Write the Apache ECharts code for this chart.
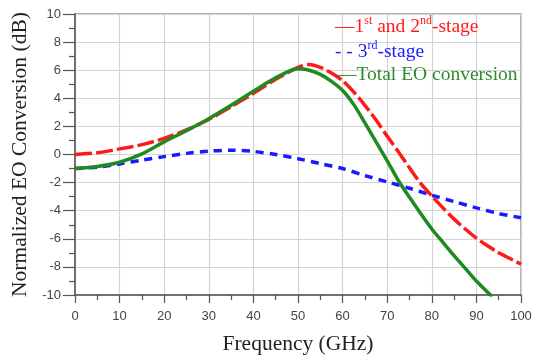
<!DOCTYPE html>
<html>
<head>
<meta charset="utf-8">
<script src="https://cdn.jsdelivr.net/npm/echarts@6/dist/echarts.min.js"></script>
<style>html,body{margin:0;padding:0;background:#fff}#c{width:541px;height:360px}</style>
</head>
<body>
<div id="c"></div>
<script>
// Frequency (GHz) sample points
var freqRed = [0, 5, 10, 15, 20, 25, 30, 35, 40, 45, 50, 52.5, 55, 57.5, 60, 62.5, 65, 67.5, 70, 72.5, 75, 77.5, 80, 82.5, 85, 87.5, 90, 92.5, 95, 97.5, 100];
var stage12 = [0, 0.12, 0.4, 0.7, 1.15, 1.75, 2.5, 3.4, 4.35, 5.35, 6.2, 6.4, 6.2, 5.8, 5.25, 4.45, 3.5, 2.45, 1.3, 0.2, -0.95, -2.05, -2.95, -3.8, -4.6, -5.3, -5.95, -6.5, -7.0, -7.4, -7.8];

var freqBlue = [0, 5, 10, 15, 20, 25, 30, 35, 40, 45, 50, 55, 60, 65, 70, 75, 80, 85, 90, 95, 100];
var stage3 = [-1, -0.9, -0.67, -0.4, -0.15, 0.08, 0.24, 0.3, 0.22, 0.0, -0.3, -0.65, -1.0, -1.5, -1.95, -2.4, -2.9, -3.35, -3.8, -4.2, -4.5];

var freqGreen = [0, 5, 10, 15, 20, 25, 30, 35, 40, 45, 50, 52.5, 55, 57.5, 60, 62.5, 65, 67.5, 70, 72.5, 75, 77.5, 80, 82.5, 85, 87.5, 90, 93.5];
var totalEO = [-1, -0.85, -0.55, 0.05, 0.9, 1.7, 2.55, 3.5, 4.5, 5.45, 6.1, 6.0, 5.7, 5.2, 4.55, 3.55, 2.25, 0.9, -0.45, -1.85, -3.05, -4.2, -5.3, -6.25, -7.2, -8.1, -9.0, -10.1];

var xTicks = {min: 0, max: 100, interval: 10};
var yTicks = {min: -10, max: 10, interval: 2};

function pairs(xs, ys) { return xs.map(function (x, i) { return [x, ys[i]]; }); }

var chart = echarts.init(document.getElementById('c'), null, {renderer: 'canvas'});
var serif = '"Liberation Serif", "Times New Roman", serif';
var sans = '"Liberation Sans", Arial, sans-serif';

chart.setOption({
  animation: false,
  backgroundColor: '#fff',
  grid: {left: 75, right: 20, top: 14, bottom: 65, show: true, borderColor: '#999', borderWidth: 1.5},
  xAxis: {
    type: 'value', min: xTicks.min, max: xTicks.max, interval: xTicks.interval,
    name: 'Frequency (GHz)', nameLocation: 'middle', nameGap: 38,
    nameTextStyle: {fontFamily: serif, fontSize: 21.5, color: '#222'},
    axisLine: {show: true, onZero: false, lineStyle: {color: '#555', width: 1.5}},
    axisTick: {show: true, length: 8, lineStyle: {color: '#555', width: 1.2}},
    minorTick: {show: true, splitNumber: 2, length: 5, lineStyle: {color: '#555', width: 1.2}},
    axisLabel: {margin: 15, fontFamily: sans, fontSize: 13, color: '#444'},
    splitLine: {show: true, lineStyle: {color: '#d4d4d4', width: 1.2}}
  },
  yAxis: {
    type: 'value', min: yTicks.min, max: yTicks.max, interval: yTicks.interval,
    name: 'Normalized EO Conversion (dB)', nameLocation: 'middle', nameGap: 40,
    nameTextStyle: {fontFamily: serif, fontSize: 21.5, color: '#222'},
    axisLine: {show: true, onZero: false, lineStyle: {color: '#555', width: 1.5}},
    axisTick: {show: true, length: 12, lineStyle: {color: '#555', width: 1.2}},
    minorTick: {show: true, splitNumber: 2, length: 6, lineStyle: {color: '#555', width: 1.2}},
    axisLabel: {margin: 14, fontFamily: sans, fontSize: 13, color: '#444'},
    splitLine: {show: true, lineStyle: {color: '#d4d4d4', width: 1.2}}
  },
  series: [
    {name: '3rd-stage', type: 'line', data: pairs(freqBlue, stage3), smooth: 0.3, showSymbol: false,
     lineStyle: {color: '#1a1aff', width: 3.5, type: [8, 6]}, z: 3},
    {name: '1st and 2nd-stage', type: 'line', data: pairs(freqRed, stage12), smooth: 0.3, showSymbol: false,
     lineStyle: {color: '#ff1a1a', width: 3.5, type: [17, 4]}, z: 4},
    {name: 'Total EO conversion', type: 'line', data: pairs(freqGreen, totalEO), smooth: 0.3, showSymbol: false,
     lineStyle: {color: '#1f8a1f', width: 3.5}, z: 5}
  ],
  graphic: [
    {type: 'text', left: 335, top: 15, z: 10, style: {
      text: '{m|—1}{s|st}{m| and 2}{s|nd}{m|-stage}',
      rich: {m: {fontFamily: serif, fontSize: 19.5, fill: '#ff1a1a', lineHeight: 22, verticalAlign: 'bottom'},
             s: {fontFamily: serif, fontSize: 12, fill: '#ff1a1a', lineHeight: 22, verticalAlign: 'top'}}}},
    {type: 'text', left: 335, top: 40, z: 10, style: {
      text: '{m|- - 3}{s|rd}{m|-stage}',
      rich: {m: {fontFamily: serif, fontSize: 19.5, fill: '#1a1aff', lineHeight: 22, verticalAlign: 'bottom'},
             s: {fontFamily: serif, fontSize: 12, fill: '#1a1aff', lineHeight: 22, verticalAlign: 'top'}}}},
    {type: 'text', left: 337, top: 65, z: 10, style: {
      text: '—Total EO conversion',
      fontFamily: serif, fontSize: 19.5, fill: '#2e8a2e'}}
  ]
});
</script>
</body>
</html>
